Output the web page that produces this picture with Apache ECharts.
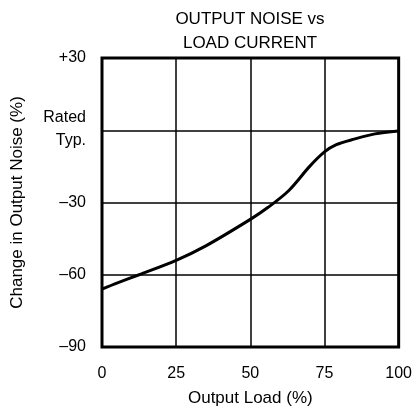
<!DOCTYPE html>
<html>
<head>
<meta charset="utf-8">
<script src="https://cdn.jsdelivr.net/npm/echarts@6/dist/echarts.min.js"></script>
<style>
  html, body { margin: 0; padding: 0; background: #fff; }
  #chart { width: 415px; height: 413px; }
</style>
</head>
<body>
<div id="chart"></div>
<script>
  // 数据
  var loadPct = [0, 5, 12.5, 25, 35, 50, 56, 63, 70, 75, 79, 85, 92, 100]
  var noiseChange = [-66, -63.5, -60, -54, -48, -37, -32, -25, -15, -9, -6, -3.7, -1.5, -0.3]
  var yTickValues = [30, 0, -30, -60, -90]
  var yTickLabels = ['+30', '{a|Rated}\n{a|Typ.}\n{s| }', '\u201330', '\u201360', '\u201390']

  var font = 'Liberation Sans, Arial, sans-serif'
  var chart = echarts.init(document.getElementById('chart'))

  chart.setOption({
    animation: false,
    textStyle: { fontFamily: font, color: '#000' },
    // 标题
    graphic: [
      { type: 'text', x: 250, y: 19, style: { text: 'OUTPUT NOISE vs', fontFamily: font, fontSize: 17, fill: '#000', align: 'center', verticalAlign: 'middle' } },
      { type: 'text', x: 250, y: 43, style: { text: 'LOAD CURRENT', fontFamily: font, fontSize: 17, fill: '#000', align: 'center', verticalAlign: 'middle' } }
    ],
    grid: {
      left: 102,
      right: 15,
      top: 58,
      bottom: 66,
      show: true,
      borderColor: '#000',
      borderWidth: 3,
      backgroundColor: 'transparent'
    },
    xAxis: {
      type: 'value',
      min: 0,
      max: 100,
      interval: 25,
      name: 'Output Load (%)',
      nameLocation: 'middle',
      nameGap: 43,
      nameTextStyle: { fontSize: 17, color: '#000', fontFamily: font },
      axisLine: { show: false },
      axisTick: { show: false },
      axisLabel: { fontSize: 16, color: '#000', margin: 19, fontFamily: font },
      splitLine: { lineStyle: { color: '#000', width: 1.5 } }
    },
    yAxis: {
      type: 'value',
      min: -90,
      max: 30,
      interval: 30,
      name: 'Change in Output Noise (%)',
      nameLocation: 'middle',
      nameGap: 76,
      nameTextStyle: { fontSize: 17, color: '#000', fontFamily: font },
      axisLine: { show: false },
      axisTick: { show: false },
      axisLabel: {
        fontSize: 16,
        color: '#000',
        margin: 16,
        fontFamily: font,
        rich: {
          a: { fontSize: 16, lineHeight: 23, fontFamily: font, color: '#000', align: 'right' },
          s: { fontSize: 2, lineHeight: 2 }
        },
        formatter: function (v) {
          var i = yTickValues.indexOf(v)
          return i >= 0 ? yTickLabels[i] : ''
        }
      },
      splitLine: { lineStyle: { color: '#000', width: 1.5 } }
    },
    series: [
      {
        type: 'line',
        data: loadPct.map(function (x, i) { return [x, noiseChange[i]] }),
        smooth: 0.3,
        showSymbol: false,
        lineStyle: { color: '#000', width: 3 }
      }
    ]
  })
</script>
</body>
</html>
